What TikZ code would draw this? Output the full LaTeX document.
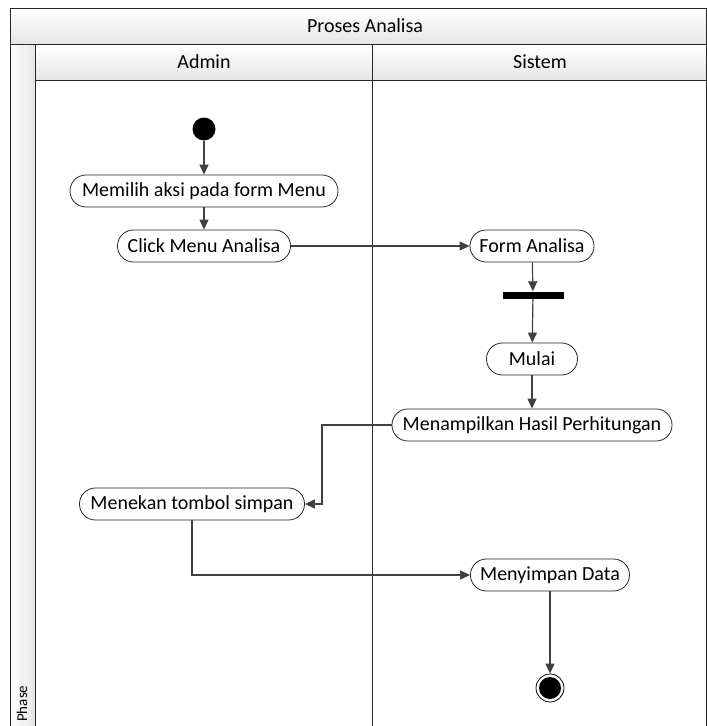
\documentclass[tikz,border=0pt]{standalone}
\usepackage{fontspec}
\setmainfont{Carlito}
\usetikzlibrary{arrows.meta}
\definecolor{linegray}{HTML}{404040}
\definecolor{bandgray}{HTML}{E6E6E6}
\begin{document}
\begin{tikzpicture}[x=1pt,y=-1pt,
  act/.style={draw=black!85, line width=0.8pt, fill=white, rectangle,
    rounded corners=15.9pt, minimum height=32pt, inner xsep=4pt,
    font=\fontsize{20}{24}\selectfont},
  flow/.style={draw=linegray, line width=1.2pt,
    -{Triangle[length=10pt,width=9pt]}},
  lane/.style={draw=black!85, line width=0.8pt},
  hdr/.style={font=\fontsize{20}{24}\selectfont}]
\useasboundingbox (0,0) rectangle (707,726);
\begin{scope}
\clip (0,0) rectangle (707,726);
% title band, phase column and lane headers
\shade[top color=white, bottom color=bandgray] (10,8) rectangle (710,44);
\shade[left color=white, right color=bandgray] (10,44) rectangle (35,730);
\shade[top color=white, bottom color=bandgray] (35,44) rectangle (710,80);
\draw[lane] (10,730) -- (10,8) -- (710,8);
\draw[lane] (10,44) -- (710,44);
\draw[lane] (35,80) -- (710,80);
\draw[lane] (35,44) -- (35,730);
\draw[lane] (372,44) -- (372,730);
\draw[lane] (706.5,8) -- (706.5,730);
\end{scope}
\node[hdr] (title) at (365,26) {Proses Analisa};
\node[hdr] (admin) at (204,62) {Admin};
\node[hdr] (sistem) at (540,62) {Sistem};
\node[rotate=90, font=\fontsize{15}{17}\selectfont, anchor=west, inner sep=1pt] (phase) at (22,723) {Phase};

% activities
\node[circle, fill=black, minimum size=23pt, inner sep=0pt] (start) at (204,129) {};
\node[act, minimum width=268pt] (pilih) at (204,191) {Memilih aksi pada form Menu};
\node[act, minimum width=173pt] (click) at (204,246) {Click Menu Analisa};
\node[act, minimum width=124pt] (form) at (532,246) {Form Analisa};
\node[fill=black, minimum width=61pt, minimum height=7pt, inner sep=0pt] (fork) at (533,295) {};
\node[act, minimum width=91pt] (mulai) at (532,359) {Mulai};
\node[act, minimum width=280pt] (hasil) at (532,425) {Menampilkan Hasil Perhitungan};
\node[act, minimum width=225pt] (tekan) at (192,504) {Menekan tombol simpan};
\node[act, minimum width=159pt] (simpan) at (550,575) {Menyimpan Data};
\node[circle, draw=black, line width=0.8pt, minimum size=28pt, inner sep=0pt] (end) at (550,688) {};
\node[circle, fill=black, minimum size=22pt, inner sep=0pt] (endin) at (end) {};

% transitions
\draw[flow] (start) -- (pilih);
\draw[flow] (pilih) -- (click);
\draw[flow] (click) -- (form);
\draw[flow] (form) -- (fork);
\draw[flow] (fork) -- (mulai);
\draw[flow] (mulai) -- (hasil);
\draw[flow] (hasil.west) -- (322,425) |- (tekan.east);
\draw[flow] (tekan.south) |- (simpan.west);
\draw[flow] (simpan) -- (end);
\end{tikzpicture}
\end{document}
